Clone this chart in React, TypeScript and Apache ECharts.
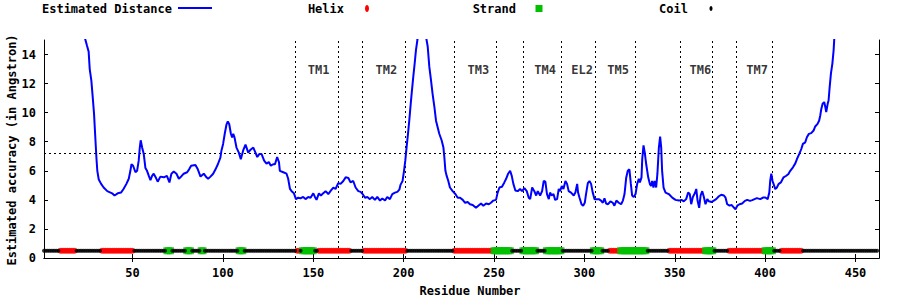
import React, { useEffect, useRef } from "react";
import * as echarts from "echarts";

// ---- data ----
const distResidue = [
  20, 22, 23.5, 24.8, 25.7, 26.3, 27.2, 28, 28.7, 29.3, 30, 30.5, 31.3, 32.6, 34, 36, 38.7, 40, 41.8, 43.6,
  45, 46.6, 47.9, 48.8, 49.4, 50.3, 51.6, 52.5, 53.4, 54, 54.5, 55.3, 56.2, 57.1, 58, 59, 59.9, 60.8, 61.7, 63,
  63.9, 65.4, 67.3, 69, 70.4, 71.5, 72.8, 74.3, 75.6, 76.5, 78.3, 80.2, 81.3, 82.4, 84.8, 86.1, 87.6, 89.4, 90.9, 91.8,
  93.1, 94.6, 95.9, 97.2, 98.6, 99.2, 100.1, 101, 102, 102.7, 103.5, 104.4, 105.1, 105.7, 106.4, 107.5, 108.8, 109.9, 111.2, 112.5,
  114, 115.3, 116.8, 118, 119, 120.1, 121.4, 122.8, 124.1, 125.4, 126.5, 127.8, 128.8, 130, 131, 131.5, 133.4, 135.2, 136.1, 137.1,
  138, 139.3, 140.4, 141.7, 142.9, 144.4, 145.7, 147.2, 148.5, 150, 150.9, 151.8, 153.1, 154.2, 155.5, 156.8, 158.3, 159.8, 161.1, 162.3,
  163.8, 165.1, 166.6, 167.9, 169.4, 170.6, 172.1, 173.4, 174.9, 176.2, 177.3, 178.6, 179.9, 181.3, 182.6, 184.1, 185.4, 186.9, 188.2, 189.7,
  190.9, 192.4, 193.7, 195.2, 196.5, 197.6, 198.3, 199.4, 200.2, 200.9, 201.6, 202.4, 203.1, 203.9, 204.6, 205.3, 206.1, 206.8, 207.6, 208.5,
  210, 211.5, 212.4, 213.3, 214.2, 215.1, 216, 217, 217.9, 218.8, 219.7, 221, 222, 222.5, 223.1, 223.8, 224.7, 225.6, 227.1, 228.6,
  229.9, 231.2, 232.7, 234, 235.4, 236.7, 238.2, 240, 241.3, 242.8, 244.1, 245.6, 247.1, 248.3, 249.6, 251.1, 252, 253, 254.4, 255.7,
  256.7, 257.8, 258.9, 259.8, 260.7, 261.8, 263.1, 264.4, 265.5, 266.8, 268.1, 269.2, 270, 271.1, 272.3, 273.3, 274.2, 275.5, 276.6, 277.5,
  278.4, 279.3, 280.3, 281, 281.9, 282.9, 283.8, 284.9, 285.8, 286.5, 287.5, 288.4, 289.5, 290.4, 291.3, 292.6, 294.1, 295, 296, 296.5,
  297.3, 298.4, 299.3, 300.2, 300.9, 301.9, 302.8, 303.7, 304.6, 305.6, 306.5, 308, 309.2, 310.2, 311.1, 312, 313.1, 314.4, 315.7, 316.6,
  317.7, 319, 320.3, 321.3, 322.2, 323.1, 324, 324.9, 325.7, 326.4, 327.3, 328.3, 329.2, 330.1, 330.7, 331.6, 332, 332.7, 333.4, 334.2,
  335.3, 336.2, 336.9, 337.5, 338.2, 338.9, 339.7, 340.4, 341.2, 341.9, 342.5, 343, 343.8, 344.9, 346.7, 348.6, 350.4, 352.3, 353.7, 355,
  356.3, 357.4, 358.3, 359.1, 360, 361.1, 361.9, 362.6, 363.5, 364.3, 365.2, 366.1, 367, 368, 368.9, 370.3, 371.6, 372.9, 374.4, 375.7,
  377.2, 378.1, 379, 380.3, 381.4, 382.7, 383.6, 384.6, 385.8, 387.3, 388.8, 390.1, 391.6, 392.9, 395.4, 397.3, 398.8, 400.1, 401.4, 402.3,
  402.8, 403.4, 404.1, 404.7, 405.6, 406.5, 407.4, 408.7, 410.2, 411.7, 412.9, 413.9, 415.4, 416.7, 417.6, 418.9, 420, 420.9, 422.2, 423.1,
  424.2, 425.5, 426.8, 427.7, 429, 429.9, 430.5, 431.1, 431.8, 432.7, 433.3, 433.8, 434.6, 435.1, 435.7, 436.4, 437.2, 437.9, 438.3, 439,
];
const distValue = [
  17.5, 16.0, 15.2, 14.6, 14.2, 13.0, 12.2, 11.0, 9.9, 8.5, 6.9, 6.0, 5.4, 5.1, 4.85, 4.6, 4.45, 4.3, 4.45, 4.5,
  4.75, 5.1, 5.45, 6.0, 6.45, 6.35, 5.9, 6.0, 6.7, 7.6, 8.1, 7.6, 7.15, 6.2, 6.0, 5.65, 5.35, 5.65, 5.8, 5.5,
  5.25, 5.6, 5.55, 5.65, 5.2, 5.8, 5.95, 5.8, 5.45, 5.55, 5.8, 5.9, 6.1, 6.35, 6.4, 6.1, 5.6, 5.8, 5.55, 5.45,
  5.6, 5.8, 6.1, 6.45, 6.9, 7.4, 7.85, 8.55, 9.2, 9.4, 9.2, 8.55, 8.3, 8.55, 8.3, 7.6, 7.25, 6.8, 7.4, 7.8,
  7.25, 7.45, 7.6, 7.25, 6.95, 7.15, 7.15, 6.7, 6.5, 6.6, 6.35, 6.45, 6.45, 6.95, 6.6, 6.0, 5.9, 5.8, 5.45, 4.75,
  4.6, 4.45, 4.05, 4.15, 4.1, 4.2, 4.05, 4.2, 4.15, 4.45, 4.2, 4.0, 4.45, 4.3, 4.45, 4.6, 4.4, 4.65, 4.85, 4.75,
  5.15, 5.1, 5.3, 5.55, 5.5, 5.2, 5.3, 4.85, 4.6, 4.55, 4.4, 4.15, 4.2, 4.05, 4.2, 4.0, 4.2, 3.95, 4.1, 3.95,
  4.2, 4.05, 4.4, 4.5, 4.55, 4.7, 5.05, 5.3, 6.0, 6.7, 7.6, 8.55, 9.45, 10.6, 11.55, 12.45, 13.4, 14.3, 15.0, 16.0,
  16.8, 16.0, 15.2, 14.55, 13.15, 12.25, 11.3, 10.4, 9.45, 9.0, 8.55, 8.1, 7.6, 6.95, 6.0, 5.65, 5.3, 4.85, 4.6, 4.4,
  4.15, 4.15, 4.0, 3.8, 3.85, 3.7, 3.65, 3.45, 3.6, 3.75, 3.6, 3.75, 3.7, 3.8, 3.95, 4.0, 4.5, 4.85, 4.9, 5.2,
  5.45, 5.8, 6.0, 5.65, 5.1, 4.65, 4.6, 4.75, 4.6, 4.8, 4.6, 4.15, 4.05, 4.85, 4.6, 4.3, 4.6, 4.3, 4.6, 5.3,
  5.25, 4.4, 4.05, 4.5, 4.3, 4.4, 4.0, 4.05, 4.75, 4.6, 4.95, 4.75, 5.3, 5.1, 4.6, 4.5, 4.3, 4.5, 5.1, 4.5,
  4.15, 3.7, 3.6, 3.8, 4.4, 5.15, 5.3, 5.1, 4.5, 4.05, 4.05, 4.05, 3.95, 3.8, 4.1, 3.75, 3.7, 3.9, 3.8, 3.6,
  3.95, 3.8, 3.7, 3.95, 4.4, 5.5, 6.0, 6.1, 5.1, 4.3, 4.2, 4.4, 5.1, 5.45, 5.2, 5.55, 6.8, 7.75, 7.25, 6.45,
  5.55, 5.1, 4.95, 5.3, 4.85, 5.3, 4.85, 5.8, 7.6, 8.35, 7.6, 6.0, 4.85, 4.5, 4.4, 4.15, 4.0, 3.95, 4.0, 3.9,
  4.05, 4.5, 4.4, 3.7, 4.2, 4.45, 4.75, 3.95, 3.45, 4.3, 4.6, 4.2, 3.7, 4.05, 3.9, 3.85, 3.95, 4.05, 4.25, 4.35,
  4.3, 4.15, 3.7, 3.6, 3.65, 3.47, 3.36, 3.6, 3.7, 3.75, 3.93, 4.0, 3.93, 3.98, 4.12, 4.05, 4.16, 4.16, 4.05, 4.5,
  5.3, 5.8, 5.3, 5.08, 4.74, 4.85, 5.08, 5.2, 5.55, 5.66, 5.78, 6.0, 6.24, 6.51, 6.81, 7.16, 7.5, 7.85, 7.96, 8.31,
  8.54, 8.59, 8.77, 9.05, 9.23, 9.46, 9.81, 10.27, 10.61, 10.73, 10.38, 10.04, 10.61, 10.84, 11.76, 12.69, 13.38, 14.3, 15.2, 16.5,
];

const proteinLength = 462;
const helixRanges = [
  [10, 18], [33, 50], [141, 142], [153, 170], [178, 201], [228, 249],
  [314, 319], [347, 366], [380, 399], [409, 420],
];
const strandRanges = [
  [69, 71], [80, 82], [88, 89], [109, 111], [144, 150], [250, 259],
  [266, 273], [279, 287], [305, 309], [320, 334], [367, 371], [400, 404],
];
const structureLevel = 0.5;

const xTicks = [50, 100, 150, 200, 250, 300, 350, 400, 450];
const yTicks = [0, 2, 4, 6, 8, 10, 12, 14];
const tmBoundaries = [140, 164, 177, 201, 228, 251, 266, 287, 306, 328, 353, 371, 384, 404];
const tmLabels = ["TM1", "TM2", "TM3", "TM4", "EL2", "TM5", "TM6", "TM7"];
const tmLabelResidue = [153, 190.4, 241.3, 278.3, 298.7, 318.7, 364.2, 395.6];
const tmLabelLevel = 12.95;
const threshold = 7.2;

const FONT = "'DejaVu Sans Mono', 'Liberation Mono', monospace";

function expand(ranges: number[][]): number[] {
  const out: number[] = [];
  ranges.forEach(([a, b]) => {
    for (let r = a; r <= b; r++) out.push(r);
  });
  return out;
}

export default function App() {
  const ref = useRef<HTMLDivElement>(null);
  useEffect(() => {
    if (!ref.current) return;
    const chart = echarts.init(ref.current, null, { renderer: "svg" });
    const helix = expand(helixRanges);
    const strand = expand(strandRanges);
    const used = new Set([...helix, ...strand]);
    const coil: number[] = [];
    for (let r = 1; r <= proteinLength; r++) if (!used.has(r)) coil.push(r);

    const textStyle = { fontFamily: FONT, fontWeight: "bold" as const, fontSize: 12, color: "#000" };
    const axisLineStyle = { lineStyle: { color: "#000", width: 1 } };
    const font = `bold 12px ${FONT}`;
    const colW = 172;

    chart.setOption({
      animation: false,
      backgroundColor: "#fff",
      grid: { left: 44, right: 21, top: 40, bottom: 42, containLabel: false, outerBoundsMode: "none" },
      xAxis: [
        {
          type: "value", min: 1, max: 463, position: "bottom",
          axisLine: axisLineStyle,
          axisTick: { inside: true, length: 4, customValues: xTicks, lineStyle: { color: "#000" } },
          axisLabel: { customValues: xTicks, margin: 9, ...textStyle },
          splitLine: { show: false },
        },
        {
          type: "value", min: 1, max: 463, position: "top",
          axisLine: axisLineStyle,
          axisTick: { inside: true, length: 4, customValues: xTicks, lineStyle: { color: "#000" } },
          axisLabel: { show: false },
          splitLine: { show: false },
        },
      ],
      yAxis: [
        {
          type: "value", min: 0, max: 15, position: "left",
          axisLine: { show: true, ...axisLineStyle },
          axisTick: { show: true, inside: true, length: 4, customValues: yTicks, lineStyle: { color: "#000" } },
          axisLabel: { customValues: yTicks, margin: 8, ...textStyle },
          splitLine: { show: false },
        },
        {
          type: "value", min: 0, max: 15, position: "right",
          axisLine: { show: true, ...axisLineStyle },
          axisTick: { show: true, inside: true, length: 4, customValues: yTicks, lineStyle: { color: "#000" } },
          axisLabel: { show: false },
          splitLine: { show: false },
        },
      ],
      series: [
        {
          type: "line",
          name: "Estimated Distance",
          data: distResidue.map((r, i) => [r, distValue[i]]),
          showSymbol: false,
          clip: true,
          lineStyle: { color: "#0000ff", width: 2 },
          z: 5,
          markLine: {
            silent: true,
            symbol: "none",
            label: { show: false },
            lineStyle: { color: "#000", width: 1, type: [2, 3] },
            data: [
              ...tmBoundaries.map((x) => ({ xAxis: x })),
              { yAxis: threshold },
            ],
          },
        },
        {
          type: "scatter",
          name: "Helix",
          data: helix.map((r) => [r, structureLevel]),
          symbol: "circle",
          symbolSize: 6,
          itemStyle: { color: "#ff0000" },
          z: 6,
        },
        {
          type: "scatter",
          name: "Strand",
          data: strand.map((r) => [r, structureLevel]),
          symbol: "rect",
          symbolSize: 7,
          itemStyle: { color: "#00c000" },
          z: 7,
        },
        {
          type: "scatter",
          name: "Coil",
          data: coil.map((r) => [r, structureLevel]),
          symbol: "circle",
          symbolSize: 4,
          itemStyle: { color: "#000" },
          z: 8,
        },
        {
          type: "scatter",
          name: "labels",
          data: tmLabelResidue.map((r, i) => ({ value: [r, tmLabelLevel], name: tmLabels[i] })),
          symbolSize: 0,
          silent: true,
          label: { show: true, position: "inside", formatter: "{b}", ...textStyle },
          z: 9,
        },
      ],
      graphic: [
        { type: "text", x: 12, y: 150, rotation: Math.PI / 2, style: { text: "Estimated accuracy (in Angstron)", align: "center", verticalAlign: "middle", font, fill: "#000" } },
        { type: "text", x: 470, y: 291, style: { text: "Residue Number", align: "center", verticalAlign: "middle", font, fill: "#000" } },
        { type: "text", x: 172, y: 9, style: { text: "Estimated Distance", align: "right", verticalAlign: "middle", font, fill: "#000" } },
        { type: "line", shape: { x1: 178, y1: 8, x2: 212, y2: 8 }, style: { stroke: "#0000ff", lineWidth: 2 } },
        { type: "text", x: 172 + colW, y: 9, style: { text: "Helix", align: "right", verticalAlign: "middle", font, fill: "#000" } },
        { type: "ellipse", shape: { cx: 195 + colW, cy: 8.5, rx: 2, ry: 3.5 }, style: { fill: "#ff0000" } },
        { type: "text", x: 172 + 2 * colW, y: 9, style: { text: "Strand", align: "right", verticalAlign: "middle", font, fill: "#000" } },
        { type: "rect", shape: { x: 195 + 2 * colW - 3.5, y: 5, width: 7, height: 7 }, style: { fill: "#00c000" } },
        { type: "text", x: 172 + 3 * colW, y: 9, style: { text: "Coil", align: "right", verticalAlign: "middle", font, fill: "#000" } },
        { type: "ellipse", shape: { cx: 195 + 3 * colW, cy: 8.5, rx: 1.5, ry: 2.5 }, style: { fill: "#000" } },
      ],
    });
    return () => chart.dispose();
  }, []);
  return (
    <div
      ref={ref}
      style={{ position: "absolute", left: 0, top: 0, width: 900, height: 300, background: "#fff" }}
    />
  );
}
